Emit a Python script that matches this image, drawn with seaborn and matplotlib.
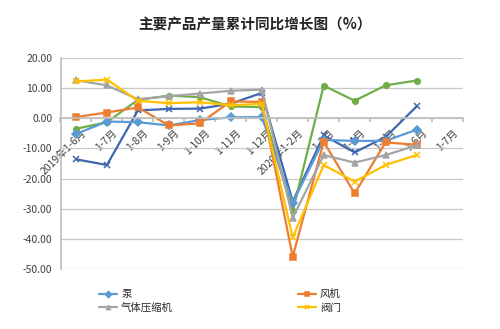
import numpy as np
import pandas as pd
import matplotlib
matplotlib.use("Agg")
import matplotlib.pyplot as plt
import matplotlib.transforms as mtrans
import seaborn as sns

categories = ["2019年1-6月", "1-7月", "1-8月", "1-9月", "1-10月", "1-11月", "1-12月",
              "2020年1-2月", "1-3月", "1-4月", "1-5月", "1-6月", "1-7月"]
nan = np.nan
pump = [-5.2, -1.1, -1.3, -2.4, -0.6, 0.3, 0.4, -28.0, -7.2, -7.5, -7.5, -3.8, nan]
fan = [0.4, 1.9, 3.6, -2.4, -1.7, 5.6, 5.4, -45.9, -7.8, -24.9, -8.0, -8.8, nan]
compressor = [12.6, 10.9, 6.3, 7.3, 8.2, 9.1, 9.5, -33.0, -12.2, -14.7, -12.2, -9.0, nan]
valve = [12.2, 12.8, 5.8, 5.0, 5.3, 4.3, 4.8, -39.5, -15.5, -21.0, -15.5, -12.2, nan]
series5 = [-13.6, -15.5, 2.6, 3.1, 3.2, 4.8, 8.4, -27.6, -5.7, -11.3, -6.2, 3.9, nan]
series6 = [-3.5, -1.3, 6.1, 7.5, 7.0, 3.9, 3.7, -30.8, 10.8, 5.8, 10.9, 12.5, nan]
yticks = [20, 10, 0, -10, -20, -30, -40, -50]

sns.set_theme(style="white")
plt.rcParams['font.family'] = ['Noto Sans CJK SC', 'DejaVu Sans']

fig = plt.figure(figsize=(5.0, 3.29), dpi=100)
ax = fig.add_axes([0.121, 0.182, 0.805, 0.642])

x = np.arange(len(categories))
specs = [
    ("series5", series5, "#3F66AE", "x", False),
    ("series6", series6, "#70AD47", "o", False),
    ("泵", pump, "#5B9BD5", "D", True),
    ("风机", fan, "#ED7D31", "s", True),
    ("气体压缩机", compressor, "#A5A5A5", "^", True),
    ("阀门", valve, "#FFC000", "x", True),
]
handles = {}
for name, vals, color, mk, inleg in specs:
    df = pd.DataFrame({"x": x, "y": vals})
    sns.lineplot(data=df, x="x", y="y", ax=ax, color=color, marker=mk,
                 markersize=4, markeredgecolor=color, markeredgewidth=1.1,
                 linewidth=1.6, legend=False)
    if inleg:
        handles[name] = ax.lines[-1]

ax.set_xlim(-0.5, len(categories) - 0.5)
ax.set_ylim(-50, 20)
ax.set_yticks(yticks)
ax.set_yticklabels([f"{v:.2f}" for v in yticks], fontsize=7.5, color="#404040")
ax.yaxis.grid(True, color="#C8C8C8", linewidth=0.9)
ax.set_axisbelow(True)
ax.set_xlabel("")
ax.set_ylabel("")

for s in ["top", "right"]:
    ax.spines[s].set_visible(False)
ax.spines["left"].set_color("#BFBFBF")
ax.spines["bottom"].set_position(("data", 0))
ax.spines["bottom"].set_color("#BFBFBF")

ax.set_xticks(np.arange(-0.5, len(categories), 1.0))
ax.set_xticklabels([])
ax.tick_params(axis="x", which="major", length=3, color="#BFBFBF", direction="out", bottom=True)
ax.set_xticks(x, minor=True)
ax.set_xticklabels(categories, minor=True, rotation=45, ha="right",
                   rotation_mode="anchor", fontsize=7.5, color="#404040")
ax.tick_params(axis="x", which="minor", length=0, pad=4)
ax.tick_params(axis="y", length=0, pad=6)
offset = mtrans.ScaledTranslation(5 / 100, -4 / 100, fig.dpi_scale_trans)
for lab in ax.get_xticklabels(minor=True):
    lab.set_transform(lab.get_transform() + offset)

fig.text(0.51, 0.925, "主要产品产量累计同比增长图（%）", ha="center", va="center",
         fontsize=10.5, color="#262626", fontweight="bold")

order = ["泵", "气体压缩机", "风机", "阀门"]
fig.legend([handles[n] for n in order], order, loc="center", ncol=2,
           bbox_to_anchor=(0.44, 0.085), frameon=False, fontsize=7.5,
           handlelength=1.7, columnspacing=12, labelspacing=0.35, handletextpad=0.4,
           markerscale=0.8)

fig.savefig("out.png", dpi=100)
